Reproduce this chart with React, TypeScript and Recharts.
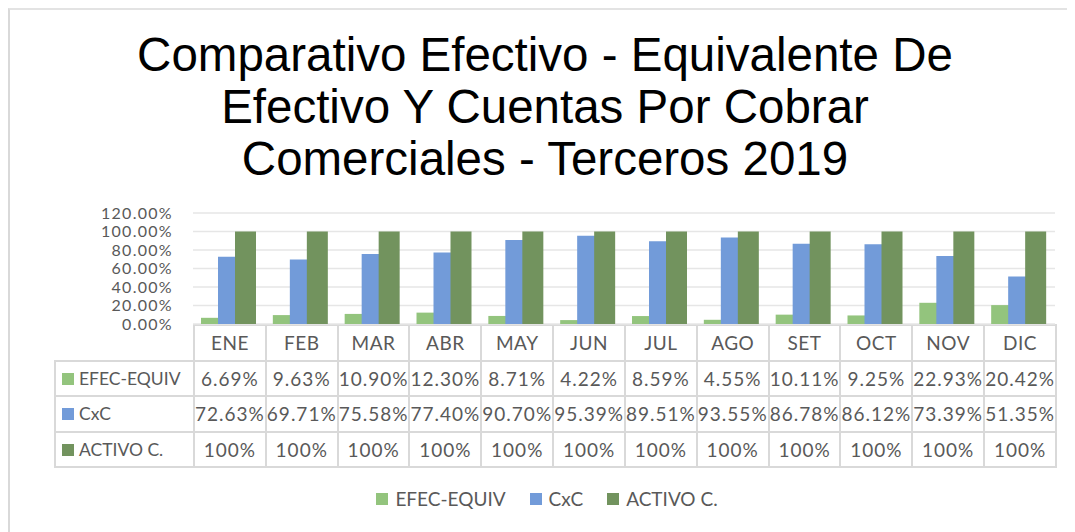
import React from 'react';
import { BarChart, Bar, XAxis, YAxis, CartesianGrid } from 'recharts';

const months = ['ENE', 'FEB', 'MAR', 'ABR', 'MAY', 'JUN', 'JUL', 'AGO', 'SET', 'OCT', 'NOV', 'DIC'];
const efecEquiv = [6.69, 9.63, 10.9, 12.3, 8.71, 4.22, 8.59, 4.55, 10.11, 9.25, 22.93, 20.42];
const cxc = [72.63, 69.71, 75.58, 77.4, 90.7, 95.39, 89.51, 93.55, 86.78, 86.12, 73.39, 51.35];
const activoC = [100, 100, 100, 100, 100, 100, 100, 100, 100, 100, 100, 100];
const yTicks = [0, 20, 40, 60, 80, 100, 120];

const series = [
  { key: 'efec', name: 'EFEC-EQUIV', values: efecEquiv, color: '#93c47d', fmt: (v: number) => v.toFixed(2) + '%' },
  { key: 'cxc', name: 'CxC', values: cxc, color: '#729bd9', fmt: (v: number) => v.toFixed(2) + '%' },
  { key: 'activo', name: 'ACTIVO C.', values: activoC, color: '#72935e', fmt: (v: number) => v + '%' },
];

const data = months.map((m, i) => ({
  month: m,
  efec: efecEquiv[i],
  cxc: cxc[i],
  activo: activoC[i],
}));

const W = 1067;
const PLOT_LEFT = 185;
const PLOT_RIGHT = 1047;
const PLOT_TOP = 205;
const PLOT_BOTTOM = 316;
const CH_H = 332;
const COL_W = (PLOT_RIGHT - PLOT_LEFT) / months.length;
const LABEL_LEFT = 44;
const ROW_H = 35.5;

const font = 'Lato, "Open Sans", sans-serif';
const textColor = '#595959';
const border = '2px solid #d9d9d9';

export default function App() {
  return (
    <div
      style={{
        position: 'relative',
        width: W,
        height: 524,
        borderTop: '2px solid #e3e3e3',
        borderLeft: '2px solid #d9d9d9',
        background: '#fff',
        boxSizing: 'border-box',
        overflow: 'hidden',
      }}
    >
      <div
        style={{
          position: 'absolute',
          left: -2,
          top: 19,
          width: 1074,
          textAlign: 'center',
          fontFamily: '"Liberation Sans", Arial, sans-serif',
          fontSize: 47.5,
          lineHeight: '52px',
          color: '#000',
        }}
      >
        Comparativo Efectivo - Equivalente De
        <br />
        Efectivo Y Cuentas Por Cobrar
        <br />
        Comerciales - Terceros 2019
      </div>

      <div
        style={{
          position: 'absolute',
          left: LABEL_LEFT,
          top: PLOT_BOTTOM - 2,
          fontFamily: font,
          fontSize: 19,
          color: textColor,
        }}
      >
        <table style={{ borderCollapse: 'collapse', tableLayout: 'fixed' }}>
          <tbody>
            <tr style={{ height: ROW_H }}>
              <td style={{ width: PLOT_LEFT - LABEL_LEFT - 3, padding: 0 }} />
              {months.map((m) => (
                <td key={m} style={{ width: COL_W - 2, border, textAlign: 'center', padding: 0, letterSpacing: 0.5 }}>
                  {m}
                </td>
              ))}
            </tr>
            {series.map((s) => (
              <tr key={s.key} style={{ height: ROW_H }}>
                <td style={{ border, padding: '0 0 0 6px', whiteSpace: 'nowrap', fontSize: 17.5 }}>
                  <span
                    style={{
                      display: 'inline-block',
                      width: 12,
                      height: 12,
                      background: s.color,
                      marginRight: 5,
                    }}
                  />
                  {s.name}
                </td>
                {s.values.map((v, i) => (
                  <td
                    key={i}
                    style={{ border, textAlign: 'center', padding: 0, whiteSpace: 'nowrap', letterSpacing: 1 }}
                  >
                    {s.fmt(v)}
                  </td>
                ))}
              </tr>
            ))}
          </tbody>
        </table>
      </div>

      <div style={{ position: 'absolute', left: -2, top: -2 }}>
        <BarChart
          width={W}
          height={CH_H}
          data={data}
          margin={{ top: PLOT_TOP, right: W - PLOT_RIGHT, bottom: CH_H - PLOT_BOTTOM, left: 0 }}
          barSize={21}
          barGap={-4}
        >
          <CartesianGrid vertical={false} stroke="#e6e6e6" strokeWidth={1.5} />
          <XAxis dataKey="month" hide height={0} />
          <YAxis
            width={PLOT_LEFT}
            domain={[0, 120]}
            ticks={yTicks}
            interval={0}
            axisLine={false}
            tickLine={false}
            tickMargin={14}
            tick={{ fill: textColor, fontSize: 16, fontFamily: font, letterSpacing: 1.3 }}
            tickFormatter={(v: number) => v.toFixed(2) + '%'}
          />
          {series.map((s) => (
            <Bar key={s.key} dataKey={s.key} name={s.name} fill={s.color} isAnimationActive={false} />
          ))}
        </BarChart>
      </div>

      <div
        style={{
          position: 'absolute',
          left: 0,
          top: 477,
          width: 1074,
          display: 'flex',
          justifyContent: 'center',
          gap: 24,
          fontFamily: font,
          fontSize: 19,
          color: textColor,
        }}
      >
        {series.map((s) => (
          <div key={s.key} style={{ display: 'flex', alignItems: 'center' }}>
            <span style={{ display: 'inline-block', width: 12, height: 12, background: s.color, marginRight: 7 }} />
            {s.name}
          </div>
        ))}
      </div>
    </div>
  );
}
